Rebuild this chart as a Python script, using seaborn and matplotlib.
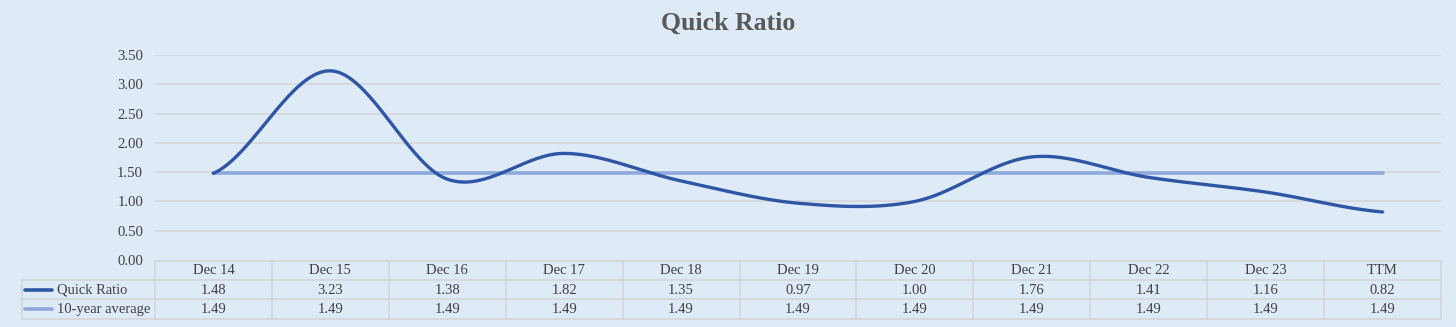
import numpy as np
import pandas as pd
import matplotlib
matplotlib.use("Agg")
import matplotlib.pyplot as plt
import seaborn as sns

# Data
periods = ["Dec 14", "Dec 15", "Dec 16", "Dec 17", "Dec 18", "Dec 19",
           "Dec 20", "Dec 21", "Dec 22", "Dec 23", "TTM"]
quick_ratio = [1.48, 3.23, 1.38, 1.82, 1.35, 0.97, 1.00, 1.76, 1.41, 1.16, 0.82]
ten_year_avg = [1.49] * 11
series_names = ["Quick Ratio", "10-year average"]
y_ticks = [0.0, 0.5, 1.0, 1.5, 2.0, 2.5, 3.0, 3.5]

BG = "#DEEAF6"
LINE_MAIN = "#2F55A5"
LINE_AVG = "#8EA9DB"
GRID = "#D4D9DE"
TEXT = "#404040"
TITLE = "#595959"

sns.set_theme(style="white")
plt.rcParams["font.family"] = ["Liberation Serif", "DejaVu Serif"]

W, H = 1456, 327
fig = plt.figure(figsize=(W / 100, H / 100), dpi=100, facecolor=BG)

# plot area in pixel terms
left_px, right_px, top_px, bottom_px = 155, 1441, 55, 260
ax = fig.add_axes([left_px / W, 1 - bottom_px / H,
                   (right_px - left_px) / W, (bottom_px - top_px) / H])
ax.set_facecolor(BG)


def smooth(values, steps=40):
    """Catmull-Rom style Bezier smoothing, like a spreadsheet smoothed line."""
    p = np.asarray(values, dtype=float)
    n = len(p)
    xs, ys = [], []
    t = np.linspace(0, 1, steps)
    for i in range(n - 1):
        p0 = p[i]
        p3 = p[i + 1]
        prev = p[i - 1] if i > 0 else p[i]
        nxt = p[i + 2] if i + 2 < n else p[i + 1]
        c1 = p0 + (p3 - prev) / 6
        c2 = p3 - (nxt - p0) / 6
        y = ((1 - t) ** 3) * p0 + 3 * ((1 - t) ** 2) * t * c1 + 3 * (1 - t) * t ** 2 * c2 + t ** 3 * p3
        xs.append(i + t)
        ys.append(y)
    return np.concatenate(xs), np.concatenate(ys)


sx, sy = smooth(quick_ratio)
curve = pd.DataFrame({"x": sx, "y": sy})
avg = pd.DataFrame({"x": np.arange(len(periods)), "y": ten_year_avg})

for yv in y_ticks[1:]:
    ax.axhline(yv, color=GRID, lw=1.3, zorder=0)

sns.lineplot(data=avg, x="x", y="y", ax=ax, color=LINE_AVG, lw=2.6,
             estimator=None, sort=False, zorder=2)
sns.lineplot(data=curve, x="x", y="y", ax=ax, color=LINE_MAIN, lw=2.4,
             estimator=None, sort=False, zorder=3)

ax.set_xlim(-0.5, len(periods) - 0.5)
ax.set_ylim(0, 3.5)
ax.set_yticks(y_ticks)
ax.set_yticklabels([f"{v:.2f}" for v in y_ticks], fontsize=10.6, color=TEXT)
ax.tick_params(axis="y", length=0, pad=8.5)
ax.set_xticks([])
ax.set_xlabel("")
ax.set_ylabel("")
for s in ax.spines.values():
    s.set_visible(False)

fig.text(0.5, 1 - 23 / H, "Quick Ratio", ha="center", va="center",
         fontsize=18.5, fontweight="bold", color=TITLE)

# Data table under the plot, laid out in figure pixels
tab = fig.add_axes([0, 0, 1, 1])
tab.set_xlim(0, W)
tab.set_ylim(H, 0)
tab.axis("off")
tab.patch.set_alpha(0)

row_edges = [260.5, 279.7, 299.3, 319.3]
label_left = 22
ncol = len(periods)
col_w = (right_px - left_px) / ncol
col_edges = [left_px + i * col_w for i in range(ncol + 1)]
BORDER = "#D2D4D7"
lw_b = 1.1

# horizontal borders
tab.plot([left_px, right_px], [row_edges[0]] * 2, color=BORDER, lw=lw_b)
for r in row_edges[1:]:
    tab.plot([label_left, right_px], [r, r], color=BORDER, lw=lw_b)
# vertical borders
tab.plot([label_left] * 2, [row_edges[1], row_edges[3]], color=BORDER, lw=lw_b)
for c in col_edges:
    tab.plot([c, c], [row_edges[0], row_edges[3]], color=BORDER, lw=lw_b)

fs = 10.5
for i, p in enumerate(periods):
    cx = (col_edges[i] + col_edges[i + 1]) / 2
    tab.text(cx, (row_edges[0] + row_edges[1]) / 2 + 0.5, p, ha="center", va="center",
             fontsize=fs, color=TEXT)
    tab.text(cx, (row_edges[1] + row_edges[2]) / 2 + 0.5, f"{quick_ratio[i]:.2f}",
             ha="center", va="center", fontsize=fs, color=TEXT)
    tab.text(cx, (row_edges[2] + row_edges[3]) / 2 + 0.5, f"{ten_year_avg[i]:.2f}",
             ha="center", va="center", fontsize=fs, color=TEXT)

for k, (name, col) in enumerate(zip(series_names, [LINE_MAIN, LINE_AVG])):
    cy = (row_edges[k + 1] + row_edges[k + 2]) / 2
    tab.plot([25, 52], [cy, cy], color=col, lw=2.6, solid_capstyle="round")
    tab.text(57, cy + 0.5, name, ha="left", va="center", fontsize=fs, color=TEXT)

fig.savefig("out.png", dpi=100, facecolor=BG)
